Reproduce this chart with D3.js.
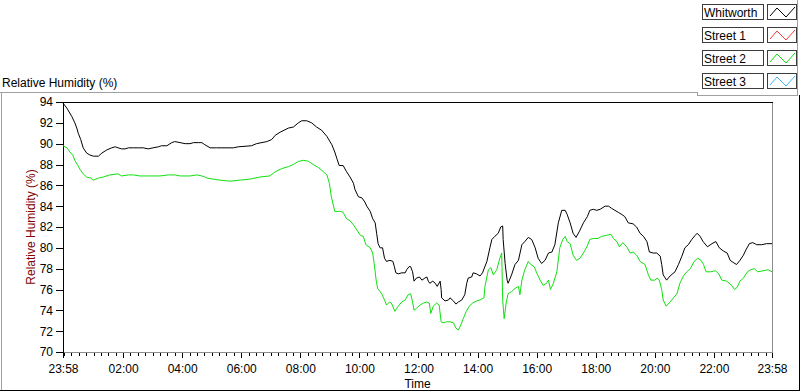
<!DOCTYPE html>
<meta charset="utf-8">
<script src="https://d3js.org/d3.v7.min.js"></script>
<style>
  body { margin: 0; background: #fff; }
  text { font-family: "Liberation Sans", Arial, sans-serif; font-size: 12px; }
</style>
<body>
<div id="chart"></div>
</body>
<script>
    // minutes after the 23:58 start, and RH readings
    const whitworthMinutes = [0,8,18,24,28,31,36,41,48,55,
        62,72,79,89,99,106,112,119,126,133,
        143,153,163,173,183,194,200,211,221,227,
        238,248,258,265,275,282,288,299,312,346,
        356,383,393,414,424,431,441,458,468,478,
        485,495,505,515,525,536,546,552,556,561,
        569,576,583,590,593,600,607,613,617,624,
        629,634,637,640,644,649,653,657,664,670,
        673,676,681,688,695,698,703,706,710,713,
        718,724,729,735,739,742,745,751,756,760,
        766,768,769,776,783,786,793,798,803,810,
        816,820,823,830,833,840,847,852,861,867,
        871,877,884,889,893,894,898,902,904,911,
        918,925,932,938,945,952,959,965,972,979,
        986,993,999,1006,1013,1020,1024,1030,1036,1042,
        1049,1057,1065,1070,1077,1084,1091,1101,1108,1114,
        1121,1128,1135,1141,1148,1158,1165,1172,1179,1186,
        1191,1199,1206,1213,1216,1219,1226,1233,1243,1250,
        1257,1263,1270,1277,1284,1288,1294,1300,1309,1318,
        1326,1333,1341,1349,1355,1361,1368,1375,1382,1387,
        1394,1401,1409,1419,1429,1440];
    const whitworthRH = [93.9,93.4,92.6,92.0,91.5,91.0,90.4,89.6,89.1,88.9,
        88.8,88.8,89.1,89.4,89.6,89.7,89.6,89.5,89.5,89.6,
        89.6,89.6,89.6,89.5,89.6,89.7,89.8,89.8,90.1,90.2,
        90.1,90.0,90.0,90.1,90.1,90.1,89.9,89.6,89.6,89.6,
        89.7,89.8,90.0,90.2,90.4,90.8,91.1,91.5,91.6,92.0,
        92.2,92.2,92.0,91.6,91.3,90.7,89.9,89.2,88.6,87.9,
        87.9,87.3,86.8,86.2,85.6,84.9,84.8,84.4,84.0,83.5,
        82.8,82.4,81.4,80.4,80.0,80.0,79.0,78.7,78.8,78.7,
        78.2,77.6,77.5,77.6,77.6,77.9,78.2,78.2,77.7,76.8,
        77.1,77.2,76.9,77.1,77.2,76.8,76.6,76.8,76.6,76.3,
        76.8,76.0,75.2,74.9,75.0,75.2,74.9,74.6,74.8,75.0,
        75.5,76.6,77.1,77.2,77.6,77.5,77.3,77.6,78.7,80.0,
        80.8,81.1,81.4,82.0,82.1,80.8,78.5,76.9,76.6,77.4,
        78.4,78.8,80.3,80.6,81.0,80.8,80.0,79.0,78.5,78.8,
        79.5,79.6,80.3,82.4,83.6,83.6,83.2,82.4,81.4,81.0,
        81.6,82.4,83.0,83.6,83.7,83.6,83.7,84.0,84.0,83.8,
        83.6,83.4,83.2,83.0,82.4,82.3,82.0,81.4,81.1,80.6,
        79.6,79.5,79.5,79.2,78.4,77.4,76.9,77.3,77.7,78.4,
        79.2,80.0,80.3,80.8,81.2,81.4,81.1,80.6,80.1,80.4,
        80.6,80.0,79.7,79.5,78.8,78.6,78.4,78.8,79.3,79.8,
        80.4,80.5,80.3,80.3,80.4,80.4];

    const street2Minutes = [0,8,14,20,24,29,35,41,48,56,
        62,72,82,95,112,119,133,143,156,177,
        197,214,227,238,258,272,282,288,292,305,
        319,339,360,380,400,420,431,444,458,468,
        478,489,499,508,519,529,536,541,545,552,
        559,563,569,576,583,590,597,604,610,615,
        624,629,632,636,639,644,648,653,657,663,
        667,674,681,688,695,701,706,710,713,718,
        725,732,739,744,747,752,759,764,768,772,
        779,786,793,798,803,808,813,819,825,832,
        840,847,855,857,864,869,874,881,886,891,
        893,896,900,904,911,918,925,928,932,938,
        945,950,957,962,969,975,982,986,990,996,
        1003,1009,1015,1020,1024,1030,1036,1043,1050,1057,
        1064,1070,1077,1087,1094,1104,1113,1118,1125,1130,
        1137,1145,1152,1158,1165,1172,1182,1189,1194,1202,
        1207,1211,1216,1219,1225,1233,1240,1247,1253,1260,
        1267,1274,1282,1289,1296,1301,1306,1315,1325,1332,
        1338,1348,1358,1364,1369,1375,1382,1390,1397,1404,
        1411,1422,1432,1440];
    const street2RH = [89.8,89.6,89.2,88.9,88.4,88.0,87.5,87.1,86.8,86.7,
        86.5,86.7,86.8,87.0,87.1,86.9,87.0,87.0,86.9,86.9,
        86.9,87.0,87.0,86.9,86.9,87.0,86.9,86.8,86.7,86.6,
        86.5,86.4,86.5,86.6,86.8,86.9,87.3,87.6,87.8,88.0,
        88.3,88.4,88.3,88.0,87.7,87.3,87.0,86.2,84.9,83.5,
        83.5,83.5,83.4,82.8,82.6,82.2,81.7,81.2,81.1,80.3,
        80.0,79.5,78.5,76.9,76.1,75.8,75.5,75.0,74.5,74.8,
        74.7,73.9,74.4,74.8,75.0,75.5,75.6,74.8,74.0,74.2,
        74.5,74.7,74.8,74.7,73.7,74.4,74.7,74.5,72.9,72.8,
        72.9,72.9,72.8,72.3,72.1,72.6,73.2,73.9,74.4,74.7,
        74.9,75.0,75.2,76.3,77.9,78.1,77.4,77.9,78.8,79.5,
        75.0,73.2,74.7,75.6,75.8,76.1,76.3,75.5,76.9,77.9,
        78.7,78.4,78.2,77.6,76.9,76.4,76.6,76.9,76.0,76.6,
        77.7,80.0,80.8,81.1,80.6,80.4,79.3,78.8,79.0,79.5,
        80.1,80.8,80.9,80.9,81.1,81.2,81.3,80.9,80.6,80.1,
        80.5,80.1,79.5,79.6,79.3,78.7,78.4,77.4,76.9,76.9,
        77.1,76.9,76.0,75.0,74.4,74.8,75.2,75.6,76.6,77.3,
        77.7,78.0,78.7,79.0,78.8,78.4,77.7,77.7,77.8,77.5,
        76.9,76.8,76.4,76.0,76.2,76.8,77.1,77.7,77.9,78.0,
        77.7,77.8,77.9,77.7];

    const yTicks = [70,72,74,76,78,80,82,84,86,88,90,92,94];
    const majorTickMinutes = [0,122,242,362,482,602,722,842,962,1082,1202,1322,1440];
    const xTickLabels = ["23:58","02:00","04:00","06:00","08:00","10:00","12:00",
        "14:00","16:00","18:00","20:00","22:00","23:58"];
    const legendNames = ["Whitworth","Street 1","Street 2","Street 3"];
    const legendColors = ["#000000","#ff3c3c","#10e010","#3cb4ff"];

    const W = 800, H = 392;
    const plot = {left: 63, right: 772, top: 102, bottom: 352};

    const svg = d3.select("#chart").append("svg")
        .attr("width", W).attr("height", H);

    const start = new Date(2000, 0, 1, 23, 58);
    const t = m => new Date(start.getTime() + m * 60000);

    const x = d3.scaleTime().domain([t(0), t(1440)]).range([plot.left, plot.right]);
    const y = d3.scaleLinear().domain([70, 94]).range([plot.bottom, plot.top]);

    // outer frame
    const frame = svg.append("g").attr("shape-rendering", "crispEdges");
    frame.append("line").attr("x1", 0).attr("x2", 698).attr("y1", 92.5).attr("y2", 92.5).attr("stroke", "#a0a0a0");
    frame.append("line").attr("x1", 1.5).attr("x2", 1.5).attr("y1", 92).attr("y2", 391).attr("stroke", "#a0a0a0");
    frame.append("line").attr("x1", 0).attr("x2", 800).attr("y1", 390.5).attr("y2", 390.5).attr("stroke", "#000");
    frame.append("line").attr("x1", 799.5).attr("x2", 799.5).attr("y1", 95).attr("y2", 391).attr("stroke", "#000");
    // legend box edges
    frame.append("line").attr("x1", 697.5).attr("x2", 697.5).attr("y1", 92).attr("y2", 96).attr("stroke", "#a0a0a0");
    frame.append("line").attr("x1", 697).attr("x2", 798).attr("y1", 95.5).attr("y2", 95.5).attr("stroke", "#a0a0a0");
    frame.append("line").attr("x1", 797.5).attr("x2", 797.5).attr("y1", 0).attr("y2", 96).attr("stroke", "#a0a0a0");

    // title
    svg.append("text").attr("x", 2).attr("y", 87).attr("fill", "#000").text("Relative Humidity (%)");

    // plot background
    svg.append("rect").attr("x", plot.left).attr("y", plot.top)
        .attr("width", plot.right - plot.left).attr("height", plot.bottom - plot.top)
        .attr("fill", "#fff");

    // y axis
    const yAxis = svg.append("g")
        .attr("transform", `translate(${plot.left},0)`)
        .call(d3.axisLeft(y).tickValues(yTicks).tickSize(7).tickPadding(3));
    yAxis.select(".domain").remove();
    yAxis.selectAll("text").style("font-size", "12px").attr("fill", "#000");
    yAxis.selectAll("line").attr("shape-rendering", "crispEdges");

    // minor x ticks every 15 min from 00:00
    const minorMinutes = d3.range(2, 1440, 15);
    const xMinor = svg.append("g")
        .attr("transform", `translate(0,${plot.bottom})`)
        .call(d3.axisBottom(x).tickValues(minorMinutes.map(t)).tickSize(4).tickFormat(""));
    xMinor.select(".domain").remove();
    xMinor.selectAll("line").attr("shape-rendering", "crispEdges");

    const xAxis = svg.append("g")
        .attr("transform", `translate(0,${plot.bottom})`)
        .call(d3.axisBottom(x).tickValues(majorTickMinutes.map(t)).tickSize(6).tickPadding(6)
            .tickFormat((d, i) => xTickLabels[i]));
    xAxis.select(".domain").remove();
    xAxis.selectAll("text").style("font-size", "12px").attr("fill", "#000");
    xAxis.selectAll("line").attr("shape-rendering", "crispEdges");

    // plot borders
    const pb = svg.append("g").attr("shape-rendering", "crispEdges");
    pb.append("line").attr("x1", plot.left).attr("x2", plot.right + 1).attr("y1", plot.bottom + 0.5).attr("y2", plot.bottom + 0.5).attr("stroke", "#8c8c8c");
    pb.append("line").attr("x1", plot.right + 0.5).attr("x2", plot.right + 0.5).attr("y1", plot.top).attr("y2", plot.bottom + 1).attr("stroke", "#8c8c8c");
    pb.append("line").attr("x1", plot.left).attr("x2", plot.right + 1).attr("y1", plot.top + 0.5).attr("y2", plot.top + 0.5).attr("stroke", "#000");
    pb.append("line").attr("x1", plot.left + 0.5).attr("x2", plot.left + 0.5).attr("y1", plot.top).attr("y2", plot.bottom + 1).attr("stroke", "#000");

    // series
    const line = d3.line().x(d => x(t(d[0]))).y(d => y(d[1]));
    const series = [
        {name: "Street 2", color: legendColors[2], pts: d3.zip(street2Minutes, street2RH)},
        {name: "Whitworth", color: legendColors[0], pts: d3.zip(whitworthMinutes, whitworthRH)}
    ];
    svg.append("g").selectAll("path")
        .data(series)
        .join("path")
        .attr("d", d => line(d.pts))
        .attr("fill", "none")
        .attr("stroke", d => d.color)
        .attr("stroke-width", 1)
        .attr("stroke-linejoin", "miter");

    // axis titles
    svg.append("text").attr("x", (plot.left + plot.right) / 2).attr("y", 388)
        .attr("text-anchor", "middle").attr("fill", "#000").text("Time");
    svg.append("text")
        .attr("transform", `translate(31,${(plot.top + plot.bottom) / 2}) rotate(-90)`)
        .attr("text-anchor", "middle").attr("dy", "0.35em")
        .attr("fill", "#800000").text("Relative Humidity (%)");

    // legend
    const lg = svg.append("g").selectAll("g")
        .data(legendNames)
        .join("g")
        .attr("transform", (d, i) => `translate(702,${4 + i * 23})`);
    lg.append("rect").attr("x", 0.5).attr("y", 0.5).attr("width", 61).attr("height", 15)
        .attr("fill", "#fff").attr("stroke", "#3c3c3c").attr("shape-rendering", "crispEdges");
    lg.append("text").attr("x", 2).attr("y", 12.5).attr("fill", "#000").text(d => d);
    lg.append("rect").attr("x", 65.5).attr("y", 0.5).attr("width", 29).attr("height", 15)
        .attr("fill", "#fff").attr("stroke", "#3c3c3c").attr("shape-rendering", "crispEdges");
    lg.append("path")
        .attr("d", "M68,12 L75,4 L84,13 L93,3")
        .attr("fill", "none")
        .attr("stroke", (d, i) => legendColors[i]);
</script>
